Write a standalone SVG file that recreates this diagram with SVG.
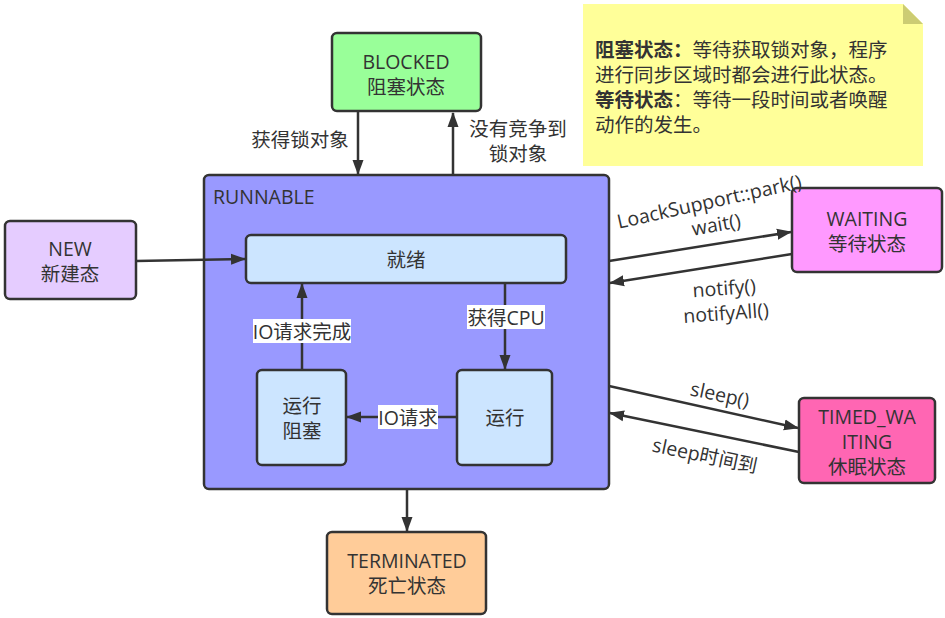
<svg xmlns="http://www.w3.org/2000/svg" width="945" height="618" viewBox="0 0 945 618">
<defs>
<marker id="arr" markerUnits="userSpaceOnUse" markerWidth="16" markerHeight="12" refX="14" refY="6" orient="auto">
<path d="M0,0.5 L15,6 L0,11.5 z" fill="#333333"/>
</marker>
<style>
.n{stroke:#333333;stroke-width:2.5}
.t{font-family:"Open Sans","Noto Sans CJK SC",sans-serif;font-size:19.5px;fill:#333333;text-anchor:middle;dominant-baseline:central}
.c{fill:none;stroke:#333333;stroke-width:2.5;marker-end:url(#arr)}
.lb{fill:#ffffff}
</style>
</defs>
<rect width="945" height="618" fill="#ffffff"/>

<g id="note">
<path d="M583,4 H903 L923,24 V166 H583 Z" fill="#FFFF99"/>
<path d="M903,4 V24 H923 Z" fill="#CCCC73"/>
<text class="t" style="text-anchor:start"><tspan x="595" y="49" font-weight="bold">阻塞状态：</tspan><tspan>等待获取锁对象，程序</tspan><tspan x="595" y="74">进行同步区域时都会进行此状态。</tspan><tspan x="595" y="99" font-weight="bold">等待状态</tspan><tspan>：等待一段时间或者唤醒</tspan><tspan x="595" y="124">动作的发生。</tspan></text>
</g>

<g id="runnable">
<rect class="n" x="204" y="175" width="405" height="314" rx="5" fill="#9999FF"/>
<text class="t" style="text-anchor:start" x="213" y="196">RUNNABLE</text>
</g>

<g id="blocked">
<rect class="n" x="332" y="33" width="149" height="78" rx="5" fill="#99FF99"/>
<text class="t"><tspan x="406" y="61">BLOCKED</tspan><tspan x="406" y="86">阻塞状态</tspan></text>
</g>

<g id="new">
<rect class="n" x="5" y="221" width="131" height="78" rx="5" fill="#E5CCFF"/>
<text class="t"><tspan x="70" y="248">NEW</tspan><tspan x="70" y="273">新建态</tspan></text>
</g>

<g id="ready">
<rect class="n" x="246" y="235" width="320" height="48" rx="5" fill="#CCE5FF"/>
<text class="t" x="406" y="259">就绪</text>
</g>

<g id="run-blocked">
<rect class="n" x="257" y="370" width="89" height="95" rx="5" fill="#CCE5FF"/>
<text class="t"><tspan x="302" y="405">运行</tspan><tspan x="302" y="430">阻塞</tspan></text>
</g>

<g id="running">
<rect class="n" x="457" y="370" width="95" height="95" rx="5" fill="#CCE5FF"/>
<text class="t" x="505" y="417">运行</text>
</g>

<g id="terminated">
<rect class="n" x="327" y="532" width="159" height="82" rx="5" fill="#FFCC99"/>
<text class="t"><tspan x="407" y="560">TERMINATED</tspan><tspan x="407" y="585">死亡状态</tspan></text>
</g>

<g id="waiting">
<rect class="n" x="792" y="188" width="150" height="84" rx="5" fill="#FF99FF"/>
<text class="t"><tspan x="867" y="218">WAITING</tspan><tspan x="867" y="243">等待状态</tspan></text>
</g>

<g id="timed-waiting">
<rect class="n" x="799" y="398" width="136" height="85" rx="5" fill="#FF66B3"/>
<text class="t"><tspan x="867" y="416">TIMED_WA</tspan><tspan x="867" y="441">ITING</tspan><tspan x="867" y="466">休眠状态</tspan></text>
</g>

<g id="connectors">
<path class="c" d="M358,112 V174"/>
<path class="c" d="M453,175 V113"/>
<path class="c" d="M136,261 L245,259"/>
<path class="c" d="M505,283 V369"/>
<path class="c" d="M302,370 V284"/>
<path class="c" d="M457,417 H347"/>
<path class="c" d="M407,490 V531"/>
<path class="c" d="M609,261 L791,232"/>
<path class="c" d="M792,254 L610,283"/>
<path class="c" d="M609,386 L798,428"/>
<path class="c" d="M799,452 L610,413"/>

<text class="t" x="300" y="139">获得锁对象</text>
<text class="t"><tspan x="518" y="128">没有竞争到</tspan><tspan x="518" y="153">锁对象</tspan></text>

<rect class="lb" x="467" y="305" width="78" height="24"/>
<text class="t" x="506" y="317">获得CPU</text>
<rect class="lb" x="253" y="319" width="98" height="24"/>
<text class="t" x="302" y="331">IO请求完成</text>
<rect class="lb" x="378" y="405" width="60" height="24"/>
<text class="t" x="408" y="417">IO请求</text>

<text class="t" transform="translate(709,201) rotate(-12.5)">LoackSupport::park()</text>
<text class="t" transform="translate(716,224) rotate(-10)">wait()</text>
<text class="t" transform="rotate(-4 725 299)"><tspan x="725" y="287">notify()</tspan><tspan x="725" y="312">notifyAll()</tspan></text>
<text class="t" transform="translate(720,394) rotate(12)">sleep()</text>
<text class="t" transform="translate(705,455) rotate(12)">sleep时间到</text>
</g>
</svg>
